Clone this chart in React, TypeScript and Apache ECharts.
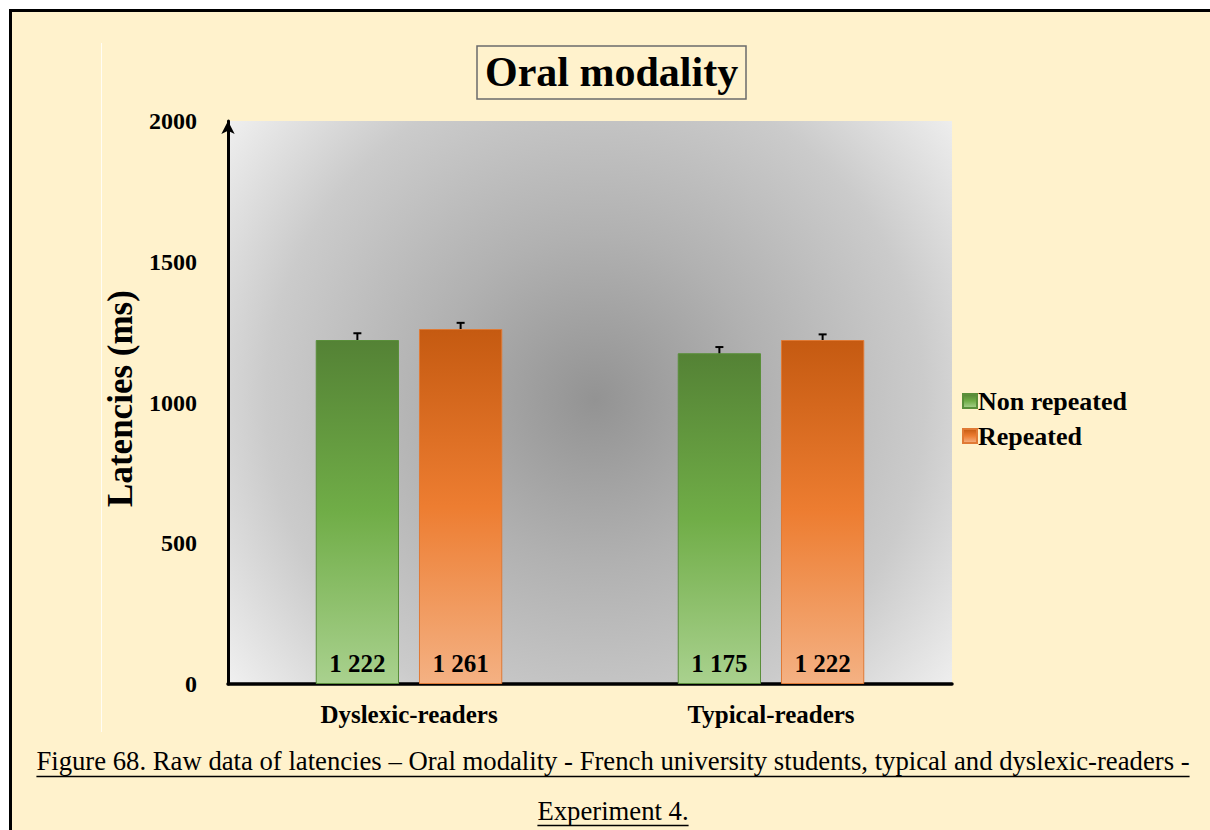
import React, { useEffect, useRef } from "react";
import * as echarts from "echarts";

// Reading latencies (ms) per group and condition
const categories = ["Dyslexic-readers", "Typical-readers"];
const seriesNames = ["Non repeated", "Repeated"];
const nonRepeated = [1222, 1175];
const repeated = [1261, 1222];
// Standard errors drawn as whiskers above each bar
const nonRepeatedErr = [24, 22];
const repeatedErr = [22, 20];
const yMin = 0;
const yMax = 2000;
const yInterval = 500;

const titleText = "Oral modality";
const yAxisTitle = "Latencies (ms)";
const captionLine1 =
  "Figure 68. Raw data of latencies \u2013 Oral modality - French university students, typical and dyslexic-readers -";
const captionLine2 = "Experiment 4.";

const SERIF = '"Liberation Serif", "Times New Roman", serif';
const CREAM = "#FFF2CC";

const fmtSpace = (v: number) => String(v).replace(/\B(?=(\d{3})+(?!\d))/g, " ");

const measure = (text: string, font: string) => {
  const c = document.createElement("canvas").getContext("2d");
  if (!c) return text.length * 10;
  c.font = font;
  return c.measureText(text).width;
};

const greenFill = new echarts.graphic.LinearGradient(0, 0, 0, 1, [
  { offset: 0, color: "#548235" },
  { offset: 0.5, color: "#70AD47" },
  { offset: 1, color: "#A9D18E" },
]);
const orangeFill = new echarts.graphic.LinearGradient(0, 0, 0, 1, [
  { offset: 0, color: "#C55A11" },
  { offset: 0.5, color: "#ED7D31" },
  { offset: 1, color: "#F4B183" },
]);

const BAR_PCT = 0.23;
const GAP_PCT = 0.24;

export default function App() {
  const ref = useRef<HTMLDivElement>(null);

  useEffect(() => {
    if (!ref.current) return;
    const chart = echarts.init(ref.current, undefined, { renderer: "svg" });

    const capFontSize = 26.7;
    const capFont = `${capFontSize}px ${SERIF}`;
    const cap1W = measure(captionLine1, capFont);
    const cap2W = measure(captionLine2, capFont);
    const capCx = 613;

    const errData: number[][] = [];
    categories.forEach((_, i) => {
      errData.push([i, nonRepeated[i], nonRepeatedErr[i], -1]);
      errData.push([i, repeated[i], repeatedErr[i], 1]);
    });

    const labelStyle = {
      show: true,
      position: "insideBottom" as const,
      distance: 8,
      color: "#000",
      fontFamily: SERIF,
      fontWeight: "bold" as const,
      fontSize: 25,
      formatter: (p: any) => fmtSpace(p.value),
    };

    chart.setOption({
      animation: false,
      backgroundColor: "#ffffff",
      title: {
        text: titleText,
        left: 477,
        top: 46,
        padding: [5, 8, 6, 8],
        borderColor: "#6b6b6b",
        borderWidth: 1.5,
        textStyle: {
          fontFamily: SERIF,
          fontWeight: "bold",
          fontSize: 42,
          color: "#000",
        },
      },
      legend: {
        data: seriesNames,
        orient: "vertical",
        left: 957,
        top: 383,
        itemGap: 9,
        itemWidth: 14,
        itemHeight: 14,
        icon: "rect",
        textStyle: {
          fontFamily: SERIF,
          fontWeight: "bold",
          fontSize: 26,
          color: "#000",
          padding: [0, 0, 0, -4],
        },
      },
      grid: {
        left: 228,
        right: 258,
        top: 121,
        bottom: 146,
        show: true,
        borderWidth: 0,
        backgroundColor: {
          type: "radial",
          x: 595,
          y: 400,
          r: 470,
          global: true,
          colorStops: [
            { offset: 0, color: "#939393" },
            { offset: 0.35, color: "#b1b1b1" },
            { offset: 0.7, color: "#cbcbcb" },
            { offset: 1, color: "#f2f2f2" },
          ],
        },
      },
      xAxis: {
        type: "category",
        data: categories,
        axisTick: { show: false },
        axisLine: { lineStyle: { color: "#000", width: 3.5 } },
        axisLabel: {
          margin: 18,
          color: "#000",
          fontFamily: SERIF,
          fontWeight: "bold",
          fontSize: 25,
        },
      },
      yAxis: {
        type: "value",
        min: yMin,
        max: yMax,
        interval: yInterval,
        name: yAxisTitle,
        nameLocation: "middle",
        nameRotate: 90,
        nameGap: 84,
        nameTextStyle: {
          fontFamily: SERIF,
          fontWeight: "bold",
          fontSize: 35,
          color: "#000",
          padding: [0, 0, 0, 8],
        },
        splitLine: { show: false },
        axisTick: { show: false },
        axisLine: {
          show: true,
          symbol: ["none", "arrow"],
          symbolSize: [10, 13],
          lineStyle: { color: "#000", width: 3 },
        },
        axisLabel: {
          margin: 31,
          color: "#000",
          fontFamily: SERIF,
          fontWeight: "bold",
          fontSize: 24,
          formatter: (v: number) => String(v),
        },
      },
      graphic: [
        {
          type: "rect",
          z: -100,
          silent: true,
          shape: { x: 9, y: 9, width: 1210, height: 830 },
          style: { fill: CREAM },
        },
        {
          type: "polyline",
          z: -90,
          silent: true,
          shape: { points: [[10.5, 830], [10.5, 10.5], [1210, 10.5]] },
          style: { stroke: "#000", lineWidth: 3, fill: "none" },
        },
        {
          type: "line",
          z: -90,
          silent: true,
          shape: { x1: 101.5, y1: 43, x2: 101.5, y2: 732 },
          style: { stroke: "#ffffff", lineWidth: 1, opacity: 0.8 },
        },
        {
          type: "text",
          silent: true,
          style: {
            text: captionLine1,
            x: capCx,
            y: 761,
            align: "center",
            verticalAlign: "middle",
            font: capFont,
            fill: "#000",
          },
        },
        {
          type: "line",
          silent: true,
          shape: { x1: capCx - cap1W / 2, y1: 776.5, x2: capCx + cap1W / 2, y2: 776.5 },
          style: { stroke: "#000", lineWidth: 1.5 },
        },
        {
          type: "text",
          silent: true,
          style: {
            text: captionLine2,
            x: capCx,
            y: 811,
            align: "center",
            verticalAlign: "middle",
            font: capFont,
            fill: "#000",
          },
        },
        {
          type: "line",
          silent: true,
          shape: { x1: capCx - cap2W / 2, y1: 825.5, x2: capCx + cap2W / 2, y2: 825.5 },
          style: { stroke: "#000", lineWidth: 1.5 },
        },
      ],
      series: [
        {
          name: seriesNames[0],
          type: "bar",
          data: nonRepeated,
          barWidth: `${BAR_PCT * 100}%`,
          barGap: `${GAP_PCT * 100}%`,
          itemStyle: { color: greenFill, borderColor: "#5a8f3a", borderWidth: 1 },
          label: labelStyle,
        },
        {
          name: seriesNames[1],
          type: "bar",
          data: repeated,
          barWidth: `${BAR_PCT * 100}%`,
          barGap: `${GAP_PCT * 100}%`,
          itemStyle: { color: orangeFill, borderColor: "#e07a35", borderWidth: 1 },
          label: labelStyle,
        },
        {
          type: "custom",
          z: 5,
          silent: true,
          data: errData,
          encode: { x: 0, y: 1 },
          renderItem: (params: any, api: any) => {
            const cat = api.value(0);
            const val = api.value(1);
            const err = api.value(2);
            const side = api.value(3);
            const band = api.size([1, 0])[0];
            const bw = band * BAR_PCT;
            const offset = (side * bw * (1 + GAP_PCT)) / 2;
            const top = api.coord([cat, val + err]);
            const base = api.coord([cat, val]);
            const x = top[0] + offset;
            const cap = 4;
            const st = { stroke: "#000", lineWidth: 2 };
            return {
              type: "group",
              children: [
                { type: "line", shape: { x1: x, y1: base[1], x2: x, y2: top[1] }, style: st },
                { type: "line", shape: { x1: x - cap, y1: top[1], x2: x + cap, y2: top[1] }, style: st },
              ],
            };
          },
        },
      ],
    });

    return () => chart.dispose();
  }, []);

  return (
    <div
      ref={ref}
      style={{ position: "fixed", left: 0, top: 0, width: 1210, height: 830 }}
    />
  );
}
